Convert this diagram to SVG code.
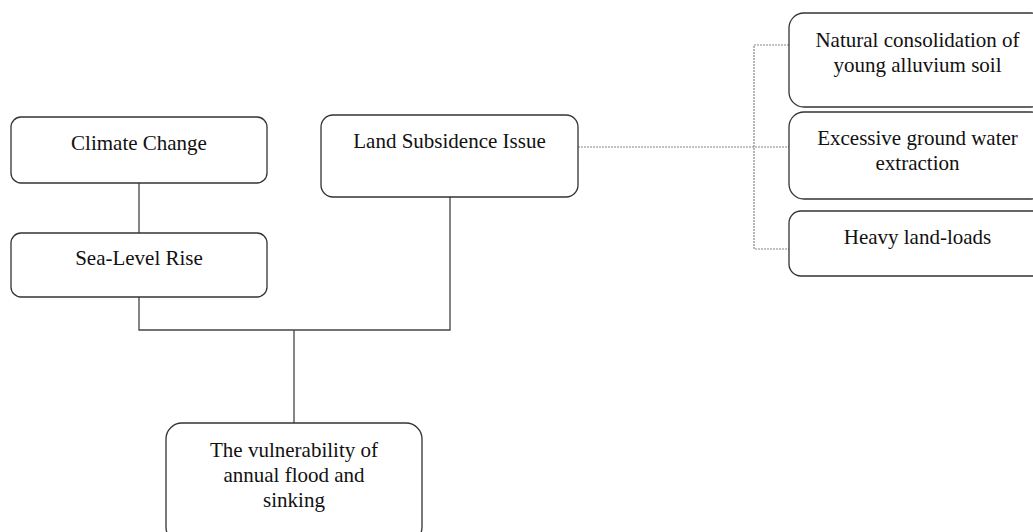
<svg xmlns="http://www.w3.org/2000/svg" width="1033" height="532" viewBox="0 0 1033 532">
<style>
.box{fill:#fff;stroke:#333;stroke-width:1.3}
.t{font-family:"Liberation Serif","Times New Roman",serif;font-size:21px;fill:#111;text-anchor:middle}
.c{fill:none;stroke:#444;stroke-width:1.3}
.d{fill:none;stroke:#888;stroke-width:1.2;stroke-dasharray:2 1}
</style>
<rect width="1033" height="532" fill="#fff"/>
<g id="connectors">
<path class="c" d="M139 183V233"/>
<path class="c" d="M139 297V330H450V197"/>
<path class="c" d="M294 330V423"/>
<path class="d" d="M578 147H789"/>
<path class="d" d="M789 45H754V249H789"/>
</g>
<g id="climate-change">
<rect class="box" x="11" y="117" width="256" height="66" rx="10"/>
<text class="t" x="139" y="150">Climate Change</text>
</g>
<g id="sea-level-rise">
<rect class="box" x="11" y="233" width="256" height="64" rx="10"/>
<text class="t" x="139" y="265">Sea-Level Rise</text>
</g>
<g id="land-subsidence">
<rect class="box" x="321" y="115" width="257" height="82" rx="12"/>
<text class="t" x="449.5" y="148">Land Subsidence Issue</text>
</g>
<g id="vulnerability">
<rect class="box" x="166" y="423" width="256" height="120" rx="16"/>
<text class="t" x="294" y="457">The vulnerability of</text>
<text class="t" x="294" y="482">annual flood and</text>
<text class="t" x="294" y="507">sinking</text>
</g>
<g id="natural-consolidation">
<rect class="box" x="789" y="13" width="257" height="94" rx="15"/>
<text class="t" x="917.5" y="47">Natural consolidation of</text>
<text class="t" x="917.5" y="72">young alluvium soil</text>
</g>
<g id="groundwater-extraction">
<rect class="box" x="789" y="112" width="257" height="87" rx="15"/>
<text class="t" x="917.5" y="145">Excessive ground water</text>
<text class="t" x="917.5" y="170">extraction</text>
</g>
<g id="heavy-land-loads">
<rect class="box" x="789" y="211" width="257" height="65" rx="12"/>
<text class="t" x="917.5" y="244">Heavy land-loads</text>
</g>
</svg>
